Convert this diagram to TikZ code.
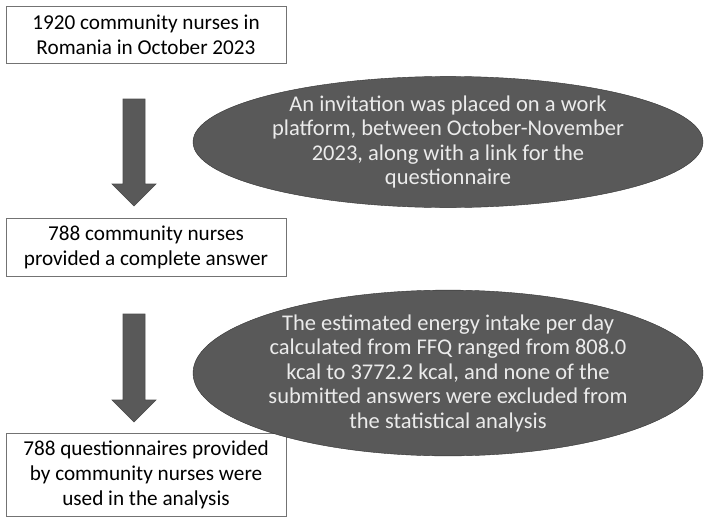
\documentclass[tikz,border=0pt]{standalone}
\usepackage{fontspec}
\setmainfont{Carlito}
\usetikzlibrary{shapes.geometric}
\definecolor{dg}{HTML}{595959}
\tikzset{
 box/.style={draw=gray!90!black,line width=0.8pt,align=center,font=\fontsize{21.2}{25}\selectfont,inner sep=0pt},
 oval/.style={ellipse,draw=black!80,fill=dg,align=center,text=white!92!black,font=\fontsize{22.5}{24.5}\selectfont,inner sep=0pt},
 bigarrow/.style={fill=dg,draw=black!70,line width=0.6pt}
}
\begin{document}
\begin{tikzpicture}[x=1pt,y=-1pt]
\useasboundingbox (0,0) rectangle (708,530);
\node[box,minimum width=280,minimum height=57] (b1) at (146,34.5) {1920 community nurses in\\Romania in October 2023};
\node[box,minimum width=280,minimum height=58] (b2) at (146,247) {788 community nurses\\provided a complete answer};
\node[box,minimum width=280,minimum height=83] (b3) at (146,474.5) {788 questionnaires provided\\by community nurses were\\used in the analysis};
\node[oval,minimum width=510,minimum height=118] (e1) at (448,142) {An invitation was placed on a work\\platform, between October-November\\2023, along with a link for the\\questionnaire};
\node[oval,minimum width=510,minimum height=132] (e2) at (448,373) {The estimated energy intake per day\\calculated from FFQ ranged from 808.0\\kcal to 3772.2 kcal, and none of the\\submitted answers were excluded from\\the statistical analysis};
\draw[bigarrow] (123,99) -- (145,99) -- (145,184) -- (156,184) -- (134,206) -- (112,184) -- (123,184) -- cycle;
\draw[bigarrow] (123,314) -- (145,314) -- (145,400) -- (156,400) -- (134,422) -- (112,400) -- (123,400) -- cycle;
\end{tikzpicture}
\end{document}
